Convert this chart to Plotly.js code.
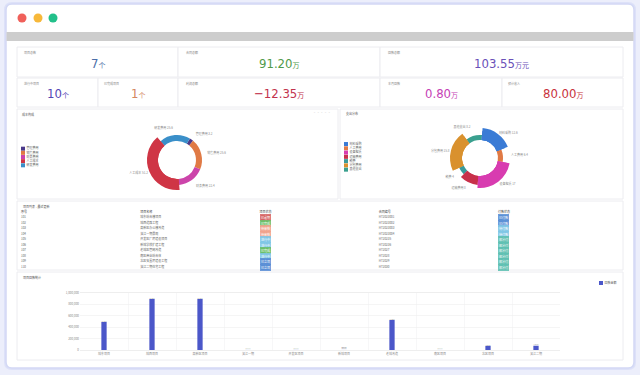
<!DOCTYPE html>
<html><head><meta charset="utf-8">
<script src="https://cdn.plot.ly/plotly-3.0.1.min.js"></script>
<style>html,body{margin:0;padding:0;background:#eceefb;}#c{width:640px;height:375px;}</style>
</head><body><div id="c"></div>
<script>
// ---------- DATA ----------
const kpiLabels = ['项目总数','合同总额','回款总额','进行中项目','已完成项目','利润总额','本月回款','预计收入'];
const kpiValues = ['7','91.20','103.55','10','1','-12.35','0.80','80.00'];
const kpiUnits  = ['个','万','万元','个','个','万','万','万'];

const costLabels = ['管理费用','销售费用','财务费用','人工成本','研发费用'];
const costValues = [3.2, 25.6, 22.4, 51.2, 25.6];

const expLabels = ['材料采购','人工费用','设备租赁','运输费用','税费','分包费用','其他支出'];
const expValues = [12.6, 6.4, 17.0, 8.0, 4.0, 15.8, 8.2];

const tblHeaders = ['序号','项目名称','项目状态','合同编号','付款状态'];
const tblIds     = ['101','102','103','104','105','106','107','108','109','110'];
const tblNames   = ['城东综合楼项目','城西道路工程','高新区办公楼改造','滨江一期景观','开发区厂房建设项目','新城学校扩建工程','老城区管网改造','南区商业综合体','北区安置房建设工程','滨江二期住宅工程'];
const tblStatus  = ['已逾期','已完成','待审核','待审核','进行中','进行中','已完成','进行中','已立项','已立项'];
const tblCodes   = ['HT2023001','HT2023002','HT2023003','HT2023004','HT20235','HT20236','HT2027','HT2028','HT2029','HT2030'];
const tblPay     = ['已付款','已付款','待付款','待付款','部分付','部分付','部分付','部分付','部分付','部分付'];

const barCats = ['城东项目','城西项目','高新区项目','滨江一期','开发区项目','新城项目','老城改造','南区项目','北区项目','滨江二期'];
const barVals = [491200, 895000, 895000, 1200, 1500, 800, 526000, 1100, 72000, 75000];
const barName = '回款金额';

// ---------- STYLE ----------
const W = 640, H = 375;
const X = v => v / W, Y = v => 1 - v / H;
const kpiColors = ['#4a6ea8','#4f9a4a','#6a50b8','#5546b5','#d4875f','#c2334d','#c541b5','#c8323c'];
const kpiLabelPos = [[22,52],[184,52],[386,52],[22,83],[102,83],[184,83],[386,83],[506,83]];
const kpiValPos = [[97.5,63],[279,63],[501,63],[57.5,93],[138,93],[279,93],[441,93],[562.5,93]];
const costColors = ['#4b3a8a','#e07a45','#cc44aa','#cf3545','#3a8fc9'];
const costTier = [1,1,1,2,1]; // radius tier
const expColors = ['#3a7bd5','#e07a45','#d83cb0','#c8304a','#3a9a9a','#d9912e','#3aa08f'];
const expTier = [3,1,3,2,1,3,1];
const statusColor = {'已逾期':'#d66565','已完成':'#6bbf6a','待审核':'#f0a28c','进行中':'#7fc6e6','已立项':'#5b8fd6'};
const payColor = {'已付款':'#5b8fd6','待付款':'#7fc6e6','部分付':'#5fc0b2'};
const gray = '#8a8a8a';

function rr(x0,y0,x1,y1,r){
  return `M${X(x0+r)},${Y(y0)} L${X(x1-r)},${Y(y0)} Q${X(x1)},${Y(y0)} ${X(x1)},${Y(y0+r)} L${X(x1)},${Y(y1-r)} Q${X(x1)},${Y(y1)} ${X(x1-r)},${Y(y1)} L${X(x0+r)},${Y(y1)} Q${X(x0)},${Y(y1)} ${X(x0)},${Y(y1-r)} L${X(x0)},${Y(y0+r)} Q${X(x0)},${Y(y0)} ${X(x0+r)},${Y(y0)} Z`;
}
function rect(x0,y0,x1,y1,fill,line,lw){
  return {type:'rect',xref:'paper',yref:'paper',x0:X(x0),x1:X(x1),y0:Y(y1),y1:Y(y0),fillcolor:fill,line:{color:line||'rgba(0,0,0,0)',width:lw===undefined?1:lw},layer:'below'};
}
function circ(cx,cy,r,fill){
  return {type:'circle',xref:'paper',yref:'paper',x0:X(cx-r),x1:X(cx+r),y0:Y(cy+r),y1:Y(cy-r),fillcolor:fill,line:{width:0},layer:'below'};
}
function dom(cx,cy,r){ return {x:[X(cx-r),X(cx+r)], y:[Y(cy+r),Y(cy-r)]}; }
function domPx(a,b){ return [X(a),X(b)]; }
function domPy(top,bot){ return [Y(bot),Y(top)]; }

const shapes = [
  {type:'path',xref:'paper',yref:'paper',path:rr(4,2,636,370,8),fillcolor:'#dde1f8',line:{width:0},layer:'below'},
  {type:'path',xref:'paper',yref:'paper',path:rr(6,4,634,368,6),fillcolor:'#ffffff',line:{color:'#d3d8f5',width:1.5},layer:'below'},
  rect(6.5,32,633.5,41,'#cdcdcd',null,0),
  circ(22,18,4.5,'#f0605a'), circ(38,18,4.5,'#f7b83a'), circ(53,18,4.5,'#22c08a'),
  rect(17,47,178,77,'#fff','#ececf0'), rect(178,47,380,77,'#fff','#ececf0'), rect(380,47,623,77,'#fff','#ececf0'),
  rect(17,78,98,107,'#fff','#ececf0'), rect(98,78,178,107,'#fff','#ececf0'), rect(178,78,380,107,'#fff','#ececf0'),
  rect(380,78,502,107,'#fff','#ececf0'), rect(502,78,623,107,'#fff','#ececf0'),
  rect(17,109,338,199,'#fff','#ececf0'), rect(340,109,623,199,'#fff','#ececf0'),
  rect(17,201,623,270,'#fff','#ececf0'), rect(17,272,623,360,'#fff','#ececf0')
];

const annotations = [];
function txt(x,y,t,size,color,anchor,extra){
  annotations.push(Object.assign({xref:'paper',yref:'paper',x:X(x),y:Y(y),text:t,showarrow:false,
    xanchor:anchor||'left',yanchor:'middle',font:{size:size,color:color}},extra||{}));
}
kpiLabels.forEach((l,i)=>txt(kpiLabelPos[i][0],kpiLabelPos[i][1],l,3,gray,'left'));
kpiValues.forEach((v,i)=>{
  annotations.push({xref:'paper',yref:'paper',x:X(kpiValPos[i][0]),y:Y(kpiValPos[i][1]),showarrow:false,
    xanchor:'center',yanchor:'middle',
    text:v.replace('-','−')+'<span style="font-size:7px">'+kpiUnits[i]+'</span>',
    font:{family:'"Liberation Sans Narrow","DejaVu Sans Condensed","Noto Sans CJK SC",sans-serif',size:13,color:kpiColors[i]}});
});
txt(20,114,'成本构成',3,'#555','left');
txt(344,113,'支出分布',3,'#555','left');
txt(333,113,'▫ ▫ ▫ ▫ ▫',3,'#c8c8c8','right');
txt(21,206,'项目列表 - 最近更新',3,'#555','left');
txt(21,277,'项目回款统计',3,'#555','left');

// ---------- TRACES ----------
const traces = [];
const tr = 'rgba(0,0,0,0)';
function donut(labels,values,colors,tiers,cx,cy,inner,radii,rot){
  radii.forEach((R,k)=>{
    const tierIdx = k+1;
    const isTop = k===radii.length-1;
    traces.push({type:'pie',labels:labels,values:values,sort:false,direction:'clockwise',rotation:rot,
      domain:dom(cx,cy,R),hole:inner/R,
      marker:{colors:colors.map((c,i)=>tiers[i]>=tierIdx?c:tr),line:{width:0}},
      textinfo:isTop?'text':'none',
      text:isTop?labels.map((l,i)=>l+' '+values[i]):undefined,
      textposition:'outside',outsidetextfont:{size:3,color:gray},
      hoverinfo:'none',showlegend:false});
  });
}
donut(costLabels,costValues,costColors,costTier,177,160,19,[25,30],31);
donut(expLabels,expValues,expColors,expTier,480,158,18,[23,27,30],5);

function legendTraces(labels,colors,xa,ya){
  traces.push({type:'scatter',mode:'markers+text',x:labels.map(()=>0),y:labels.map((_,i)=>i),
    text:labels,textposition:'middle right',textfont:{size:3,color:'#666'},
    marker:{symbol:'square',size:4,color:colors},xaxis:xa,yaxis:ya,hoverinfo:'skip',showlegend:false,cliponaxis:false});
}
legendTraces(costLabels,costColors,'x3','y3');
legendTraces(expLabels,expColors,'x4','y4');
legendTraces([barName],['#4b57c9'],'x5','y5');

const rows = tblIds.map((_,i)=>i);
[[tblIds,0],[tblNames,1],[tblCodes,3]].forEach(([col,ci])=>{
  traces.push({type:'scatter',mode:'text',x:col.map(()=>ci),y:rows,text:col,textposition:'middle right',
    textfont:{size:3,color:'#666'},marker:{size:1},xaxis:'x2',yaxis:'y2',hoverinfo:'skip',showlegend:false,cliponaxis:false});
});
traces.push({type:'scatter',mode:'text',x:tblHeaders.map((_,i)=>i),y:tblHeaders.map(()=>-1),text:tblHeaders,
  textposition:'middle right',textfont:{size:3,color:'#444'},marker:{size:1},xaxis:'x2',yaxis:'y2',hoverinfo:'skip',showlegend:false,cliponaxis:false});
tblStatus.forEach((s,i)=>annotations.push({xref:'x2',yref:'y2',x:2,y:i,text:s,showarrow:false,xanchor:'left',yanchor:'middle',
  font:{size:3,color:'#fff'},bgcolor:statusColor[s],borderpad:0.6,bordercolor:statusColor[s],borderwidth:0.5}));
tblPay.forEach((s,i)=>annotations.push({xref:'x2',yref:'y2',x:4,y:i,text:s,showarrow:false,xanchor:'left',yanchor:'middle',
  font:{size:3,color:'#fff'},bgcolor:payColor[s],borderpad:0.6,bordercolor:payColor[s],borderwidth:0.5}));

traces.push({type:'bar',x:barCats,y:barVals,name:barName,width:0.11,marker:{color:'#4b57c9'},
  text:barVals.map(v=>v.toLocaleString('en-US',{minimumFractionDigits:2})),textposition:'outside',
  textfont:{size:3,color:'#666'},cliponaxis:false,hoverinfo:'skip',showlegend:false,xaxis:'x',yaxis:'y'});

const hid = {visible:false,fixedrange:true};
const colU = 119.25;
const layout = {
  width:W,height:H,margin:{l:0,r:0,t:0,b:0},paper_bgcolor:'#eceefb',plot_bgcolor:'rgba(0,0,0,0)',
  showlegend:false,shapes:shapes,annotations:annotations,
  font:{family:'"Noto Sans CJK SC","Noto Sans",sans-serif'},
  xaxis:{domain:domPx(80,560),tickson:'boundaries',showgrid:true,gridcolor:'#f1f1f4',gridwidth:0.6,
    tickfont:{size:3,color:gray},ticks:'',showline:true,linecolor:'#eeeeee',mirror:true,fixedrange:true},
  yaxis:{domain:domPy(293,350),range:[0,1000000],dtick:200000,tickformat:',d',tickfont:{size:3,color:gray},
    gridcolor:'#eeeeee',gridwidth:0.6,zeroline:false,showline:false,fixedrange:true},
  xaxis2:Object.assign({domain:domPx(17,623),range:[-4/colU,-4/colU+606/colU],anchor:'y2'},hid),
  yaxis2:Object.assign({domain:domPy(209.25,269.75),range:[9.5,-1.5],anchor:'x2'},hid),
  xaxis3:Object.assign({domain:domPx(21,61),range:[-0.5,9.5],anchor:'y3'},hid),
  yaxis3:Object.assign({domain:domPy(146.6,167.4),range:[4.5,-0.5],anchor:'x3'},hid),
  xaxis4:Object.assign({domain:domPx(344,384),range:[-0.5,9.5],anchor:'y4'},hid),
  yaxis4:Object.assign({domain:domPy(141.9,171.8),range:[6.5,-0.5],anchor:'x4'},hid),
  xaxis5:Object.assign({domain:domPx(599,639),range:[-0.5,9.5],anchor:'y5'},hid),
  yaxis5:Object.assign({domain:domPy(281,285),range:[-0.5,0.5],anchor:'x5'},hid)
};
Plotly.newPlot('c',traces,layout,{displayModeBar:false,staticPlot:true});
</script></body></html>
